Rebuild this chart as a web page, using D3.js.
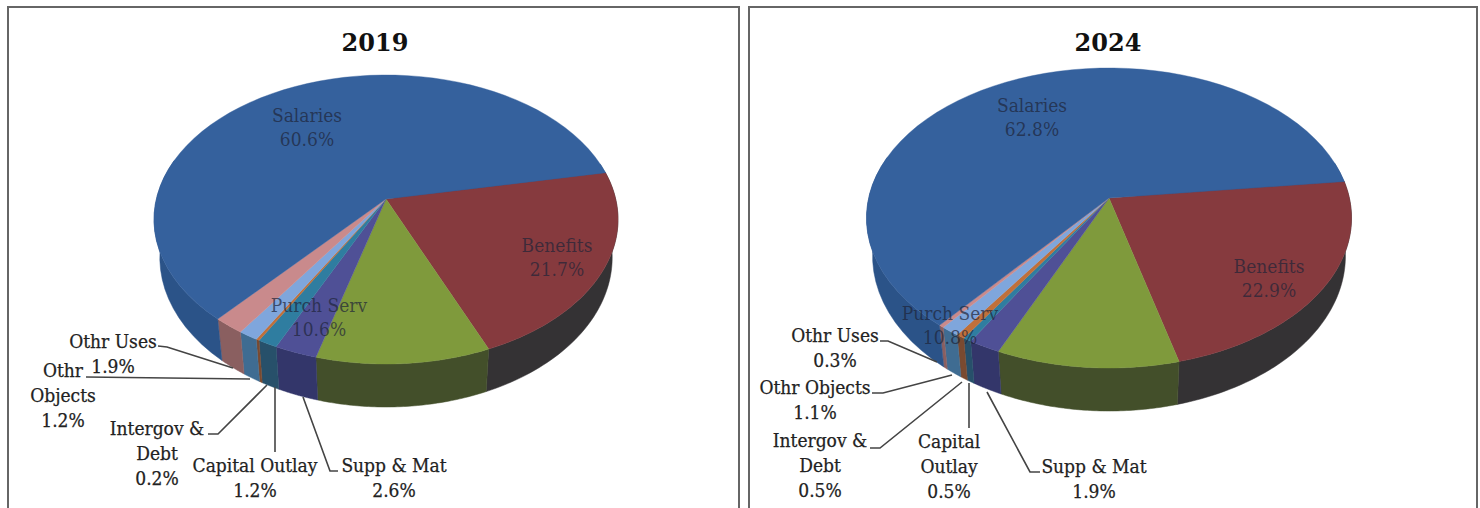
<!DOCTYPE html>
<html><head><meta charset="utf-8">
<script src="https://cdn.jsdelivr.net/npm/d3@7"></script>
<style>html,body{margin:0;padding:0;background:#fff;overflow:hidden}svg{display:block}
text{font-family:"DejaVu Serif Condensed","DejaVu Serif",serif;font-stretch:condensed}</style></head>
<body><svg id="c" width="1480" height="508"></svg>
<script>
const categories = ["Benefits","Purch Serv","Supp & Mat","Capital Outlay","Intergov & Debt","Othr Objects","Othr Uses","Salaries"];
const values2019 = [21.7,10.6,2.6,1.2,0.2,1.2,1.9,60.6];
const values2024 = [22.9,10.8,1.9,0.5,0.5,1.1,0.3,62.8];
const colors = ["#863a3e","#7f9a3c","#4f5096","#2f7da0","#c0703a","#7fa6dc","#c98a8c","#35619d"];
const sideColors = ["#343234","#434f2a","#33366a","#27506a","#7a4a30","#3f6c92","#8a5f60","#2b5388"];
const titles = ["2019","2024"];

const svg = d3.select("#c");
const panels = [
 {x:8,y:7,w:731,h:520,title:titles[0],tx:375,ty:51,vals:values2019,cx:386,ay:199,top:124,bot:165,rx:232,start:79,
  inner:[{i:7,x:307,y:122,n:"Salaries",v:"60.6%"},{i:0,x:557,y:252,n:"Benefits",v:"21.7%"},{i:1,x:319,y:312,n:"Purch Serv",v:"10.6%"}],
  outer:[
   {lines:["Othr Uses","1.9%"],x:113,y:348,path:[[158,346],[167,347],[233,368]]},
   {lines:["Othr","Objects","1.2%"],x:63,y:377,path:[[86,377],[250,379]]},
   {lines:["Intergov &","Debt","0.2%"],x:157,y:435,path:[[208,434],[218,434],[267,385]]},
   {lines:["Capital Outlay","1.2%"],x:255,y:472,path:[[275,452],[275,387]]},
   {lines:["Supp & Mat","2.6%"],x:394,y:472,path:[[338,471],[330,471],[303,397]]}]},
 {x:749,y:7,w:728,h:520,title:titles[1],tx:1108,ty:51,vals:values2024,cx:1109,ay:198,top:130,bot:170,rx:242.5,start:83.5,
  inner:[{i:7,x:1032,y:112,n:"Salaries",v:"62.8%"},{i:0,x:1269,y:273,n:"Benefits",v:"22.9%"},{i:1,x:950,y:320,n:"Purch Serv",v:"10.8%"}],
  outer:[
   {lines:["Othr Uses","0.3%"],x:835,y:342,path:[[880,341],[888,341],[937,362]]},
   {lines:["Othr Objects","1.1%"],x:815,y:394,path:[[872,393],[883,393],[952,375]]},
   {lines:["Intergov &","Debt","0.5%"],x:820,y:447,path:[[870,448],[880,448],[962,382]]},
   {lines:["Capital","Outlay","0.5%"],x:949,y:448,path:[[969,428],[969,383]]},
   {lines:["Supp & Mat","1.9%"],x:1094,y:473,path:[[1040,472],[1030,472],[987,392]]}]}
];

panels.forEach(p=>{
  svg.append("rect").attr("x",p.x).attr("y",p.y).attr("width",p.w).attr("height",p.h)
    .attr("fill","#fff").attr("stroke","#666").attr("stroke-width",2);
  const B = 2/(1/p.top+1/p.bot), k = B/p.top-1, A = p.rx*Math.sqrt(1-k*k);
  const proj = a => { const X=Math.sin(a),Y=-Math.cos(a),w=1-k*Y;
    return [p.cx+A*X/w, p.ay+B*Y/w, Y]; };
  const depth = Y => 37+6*Y;
  const shrink = 0.975;
  const pie = d3.pie().sort(null).value(d=>d).startAngle(p.start*Math.PI/180).endAngle(p.start*Math.PI/180+2*Math.PI);
  const arcs = pie(p.vals);
  const line = d3.line();
  const sample = (a0,a1) => d3.range(0,61).map(i=>proj(a0+(a1-a0)*i/60));
  const g = svg.append("g");
  arcs.forEach((d,i)=>{
    const pts = sample(d.startAngle,d.endAngle).filter(q=>q[2]>-0.3);
    if(pts.length<2) return;
    const top = pts.map(q=>[q[0],q[1]]);
    const bottom = pts.slice().reverse().map(q=>[p.cx+(q[0]-p.cx)*shrink,q[1]+depth(q[2])]);
    g.append("path").attr("d",line(top.concat(bottom))+"Z").attr("fill",sideColors[i]).attr("stroke",sideColors[i]).attr("stroke-width",0.5);
  });
  arcs.forEach((d,i)=>{
    const pts = sample(d.startAngle,d.endAngle).map(q=>[q[0],q[1]]);
    g.append("path").attr("d",line([[p.cx,p.ay]].concat(pts))+"Z").attr("fill",colors[i]).attr("stroke",colors[i]).attr("stroke-width",0.4);
  });
  svg.append("text").attr("x",p.tx).attr("y",p.ty).attr("text-anchor","middle").attr("font-size",24).attr("font-weight",700).style("font-family","'DejaVu Serif'").style("font-stretch","normal").attr("fill","#111").text(p.title);
  p.inner.forEach(t=>{
    const el = svg.append("text").attr("text-anchor","middle").attr("font-size",19).attr("fill","#1e2438").attr("fill-opacity",0.7);
    el.append("tspan").attr("x",t.x).attr("y",t.y).text(t.n);
    el.append("tspan").attr("x",t.x).attr("y",t.y+24).text(t.v);
  });
  p.outer.forEach(o=>{
    svg.append("path").attr("d",line(o.path)).attr("fill","none").attr("stroke","#444").attr("stroke-width",1.6);
    const el = svg.append("text").attr("text-anchor","middle").attr("font-size",19).attr("fill","#222").attr("stroke","#222").attr("stroke-width",0.25);
    o.lines.forEach((l,i)=>el.append("tspan").attr("x",o.x).attr("y",o.y+i*24.8).text(l));
  });
});
</script></body></html>
